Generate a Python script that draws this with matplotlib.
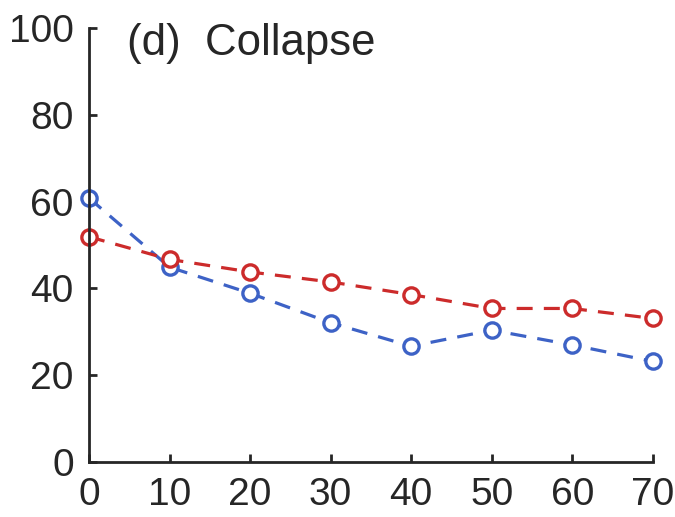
import numpy as np
import matplotlib.pyplot as plt

plt.rcParams['font.family'] = ['Liberation Sans', 'DejaVu Sans']

# data
x = [0, 10, 20, 30, 40, 50, 60, 70]
blue_vals = [60.8, 44.9, 38.9, 32.1, 26.7, 30.4, 27.0, 23.2]
red_vals = [51.9, 46.7, 43.8, 41.5, 38.6, 35.4, 35.4, 33.1]
xticks = [0, 10, 20, 30, 40, 50, 60, 70]
yticks = [0, 20, 40, 60, 80, 100]

fig = plt.figure(figsize=(6.75, 5.17), dpi=100)
ax = fig.add_axes([0.132, 0.106, 0.835, 0.840])

style = dict(linestyle=(0, (5, 3.5)), linewidth=2.3, marker='o', markersize=11,
             markeredgewidth=2.4, markerfacecolor='white', clip_on=False)
ax.plot(x, blue_vals, color='#3d62c6', **style)
ax.plot(x, red_vals, color='#cc2b2b', **style)

ax.set_xlim(0, 70)
ax.set_ylim(0, 100)
ax.set_xticks(xticks)
ax.set_yticks(yticks)
ax.spines['top'].set_visible(False)
ax.spines['right'].set_visible(False)
for s in ['left', 'bottom']:
    ax.spines[s].set_linewidth(2.0)
    ax.spines[s].set_color('#262626')
ax.tick_params(direction='in', length=6, width=2.0, color='#262626',
               labelsize=28, labelcolor='#262626')
ax.tick_params(axis='y', pad=11)
ax.tick_params(axis='x', pad=11)

ax.text(0.068, 0.965, '(d)  Collapse', transform=ax.transAxes,
        fontsize=31.5, color='#262626', va='center', ha='left')

fig.savefig('out.png', dpi=100)
